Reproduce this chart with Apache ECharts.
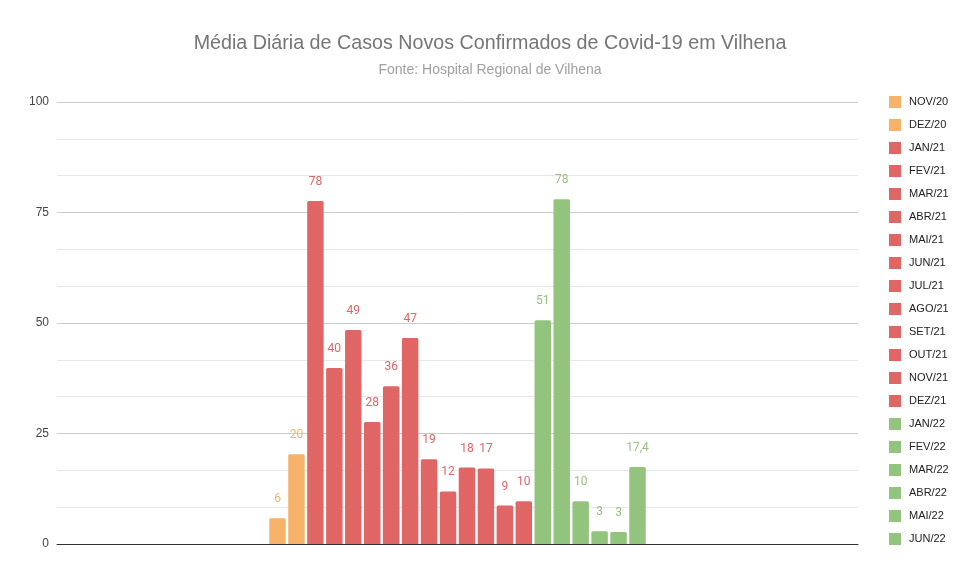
<!DOCTYPE html>
<html>
<head>
<meta charset="utf-8">
<script src="https://cdn.jsdelivr.net/npm/echarts@6/dist/echarts.min.js"></script>
<style>
  html, body { margin: 0; padding: 0; background: #fff; }
  #chart { width: 980px; height: 580px; }
</style>
</head>
<body>
<div id="chart"></div>
<script>
// monthly series (one bar each)
var months = ['NOV/20', 'DEZ/20', 'JAN/21', 'FEV/21', 'MAR/21', 'ABR/21', 'MAI/21', 'JUN/21', 'JUL/21', 'AGO/21',
  'SET/21', 'OUT/21', 'NOV/21', 'DEZ/21', 'JAN/22', 'FEV/22', 'MAR/22', 'ABR/22', 'MAI/22', 'JUN/22'];
var values = [5.8, 20.3, 77.6, 39.8, 48.4, 27.6, 35.7, 46.6, 19.2, 11.9,
  17.3, 17.1, 8.7, 9.7, 50.6, 78.0, 9.7, 2.9, 2.7, 17.4];
var labels = ['6', '20', '78', '40', '49', '28', '36', '47', '19', '12',
  '18', '17', '9', '10', '51', '78', '10', '3', '3', '17,4'];
var colors = ['#f6b26b', '#f6b26b', '#e06666', '#e06666', '#e06666', '#e06666', '#e06666', '#e06666', '#e06666', '#e06666',
  '#e06666', '#e06666', '#e06666', '#e06666', '#93c47d', '#93c47d', '#93c47d', '#93c47d', '#93c47d', '#93c47d'];
var yTicks = [0, 25, 50, 75, 100];

var myChart = echarts.init(document.getElementById('chart'));

var series = months.map(function (m, i) {
    return {
        name: m,
        type: 'bar',
        data: [values[i]],
        barGap: '15%',
        barCategoryGap: '53%',
        itemStyle: { color: colors[i], borderRadius: [1.5, 1.5, 0, 0] },
        label: {
            show: true,
            position: 'top',
            distance: 13,
            color: colors[i],
            fontFamily: 'Roboto',
            fontSize: 12,
            formatter: function () { return labels[i]; }
        }
    };
});

var option = {
    title: {
        text: 'Média Diária de Casos Novos Confirmados de Covid-19 em Vilhena',
        subtext: 'Fonte: Hospital Regional de Vilhena',
        left: 'center',
        top: 29,
        itemGap: 9,
        textStyle: { fontFamily: 'Liberation Sans', fontSize: 19.7, fontWeight: 'normal', color: '#757575' },
        subtextStyle: { fontFamily: 'Liberation Sans', fontSize: 14, color: '#a0a0a0' }
    },
    legend: {
        orient: 'vertical',
        left: 884,
        top: 91,
        itemWidth: 12,
        itemHeight: 12,
        itemGap: 11,
        icon: 'rect',
        textStyle: { fontFamily: 'Liberation Sans', fontSize: 11, color: '#222', padding: [0, 0, 0, 3] },
        data: months
    },
    grid: { left: 57, right: 122, top: 102, bottom: 36 },
    xAxis: {
        type: 'category',
        data: [''],
        axisLine: { show: true, lineStyle: { color: '#333', width: 1 } },
        axisTick: { show: false },
        axisLabel: { show: false }
    },
    yAxis: {
        type: 'value',
        min: yTicks[0],
        max: yTicks[yTicks.length - 1],
        interval: 25,
        axisLine: { show: false },
        axisTick: { show: false },
        axisLabel: { color: '#444', fontFamily: 'Liberation Sans', fontSize: 12, margin: 8 },
        splitLine: { lineStyle: { color: '#cccccc' } },
        minorTick: { show: false, splitNumber: 3 },
        minorSplitLine: { show: true, lineStyle: { color: '#e8e8e8' } }
    },
    series: series
};

myChart.setOption(option);
</script>
</body>
</html>
